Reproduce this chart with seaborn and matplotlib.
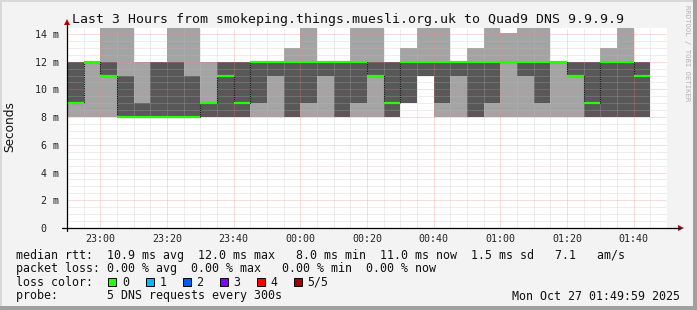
import numpy as np
import pandas as pd
import matplotlib
matplotlib.use("Agg")
import matplotlib.pyplot as plt
import seaborn as sns
from matplotlib.patches import Rectangle, Polygon
from matplotlib.lines import Line2D

# ---------------- data ----------------
step_start = ["22:50", "22:55", "23:00", "23:05", "23:10", "23:15", "23:20", "23:25",
              "23:30", "23:35", "23:40", "23:45", "23:50", "23:55", "00:00", "00:05",
              "00:10", "00:15", "00:20", "00:25", "00:30", "00:35", "00:40", "00:45",
              "00:50", "00:55", "01:00", "01:05", "01:10", "01:15", "01:20", "01:25",
              "01:30", "01:35", "01:40"]
# sorted pings per step (ms): p1 = lowest ... p5 = highest, p3 = median
ping1 = [8, 8, 8, 8, 8, 8, 8, 8, 8, 8, 8, 8, 8, 8, 8, 8, 8, 8, 8, 8,
         9, 11, 8, 8, 8, 8, 8, 8, 8, 8, 8, 8, 8, 8, 8]
ping2 = [9, 12, 11, 8, 8, 8, 8, 8, 8, 8, 8, 9, 11, 8, 9, 11, 8, 9, 11, 8,
         9, 11, 9, 11, 8, 9, 12, 11, 9, 12, 11, 8, 8, 8, 8]
median = [9, 12, 11, 8, 8, 8, 8, 8, 9, 11, 9, 12, 12, 12, 12, 12, 12, 12, 11, 9,
          12, 12, 12, 12, 12, 12, 12, 12, 12, 12, 11, 9, 12, 12, 11]
ping4 = [12, 12, 12, 11, 9, 12, 12, 11, 9, 12, 12, 12, 12, 12, 12, 12, 12, 12, 12, 12,
         12, 12, 12, 12, 12, 12, 12, 12, 12, 12, 12, 12, 12, 12, 12]
ping5 = [12, 12, 15, 15, 12, 12, 15, 15, 12, 12, 12, 12, 12, 13, 15, 12, 12, 15, 15, 12,
         13, 15, 15, 12, 13, 15, 14.1, 15, 15, 12, 12, 12, 13, 15, 12]

x_tick_labels = ["23:00", "23:20", "23:40", "00:00", "00:20", "00:40", "01:00", "01:20", "01:40"]
y_tick_values = [0, 2, 4, 6, 8, 10, 12, 14]
y_tick_labels = ["0  ", "2 m", "4 m", "6 m", "8 m", "10 m", "12 m", "14 m"]

loss_labels = ["0", "1", "2", "3", "4", "5/5"]
loss_colors = ["#26ff00", "#00b8ff", "#0059ff", "#7e00ff", "#ff0000", "#a10000"]

title = "Last 3 Hours from smokeping.things.muesli.org.uk to Quad9 DNS 9.9.9.9"
legend_lines = [
    "median rtt:  10.9 ms avg  12.0 ms max   8.0 ms min  11.0 ms now  1.5 ms sd   7.1   am/s",
    "packet loss: 0.00 % avg  0.00 % max   0.00 % min  0.00 % now",
    "loss color:",
    "probe:       5 DNS requests every 300s",
]
stamp = "Mon Oct 27 01:49:59 2025"


def to_min(s):
    h, m = map(int, s.split(":"))
    if h < 12:
        h += 24
    return (h - 22) * 60 + m


# ---------------- figure ----------------
sns.set_style("white")
plt.rcParams["font.family"] = ["DejaVu Sans Mono", "DejaVu Sans"]

W, H = 697, 310
fig = plt.figure(figsize=(W / 100, H / 100), dpi=100)
fig.patch.set_facecolor("#f3f3f3")


def fx(x):
    return x / W


def fy(y):
    return 1 - y / H


PL, PR, PT, PB = 67, 667, 28, 228
ax = fig.add_axes([fx(PL), fy(PB), (PR - PL) / W, (PB - PT) / H])
ax.set_facecolor("white")

df = pd.DataFrame({
    "t": [to_min(s) for s in step_start],
    "p1": ping1, "p2": ping2, "med": median, "p4": ping4, "p5": ping5,
})

# smoke
ax.bar(df["t"], df["p5"] - df["p1"], bottom=df["p1"], width=5, align="edge",
       color="#a4a4a4", linewidth=0, zorder=1)
ax.bar(df["t"], df["p4"] - df["p2"], bottom=df["p2"], width=5, align="edge",
       color="#585858", linewidth=0, zorder=2)

# median: dotted dark step connectors + green segments
step_df = pd.concat([df[["t", "med"]],
                     pd.DataFrame({"t": [df["t"].iloc[-1] + 5], "med": [df["med"].iloc[-1]]})],
                    ignore_index=True)
sns.lineplot(data=step_df, x="t", y="med", ax=ax, drawstyle="steps-post",
             color="#101010", linestyle=(0, (1, 1)), linewidth=0.8, zorder=3,
             estimator=None, sort=False)
ax.hlines(df["med"], df["t"], df["t"] + 5, color=loss_colors[0], linewidth=1.6, zorder=4)

# axes limits / ticks
x0 = to_min("22:50") - 1 / 60
ax.set_xlim(x0, x0 + 180)
ax.set_ylim(0, (PB - PT) / 13.86)
major_x = [to_min(s) for s in x_tick_labels]
ax.set_xticks(major_x)
ax.set_xticklabels(x_tick_labels)
ax.set_xticks(np.arange(to_min("22:50"), x0 + 180, 5), minor=True)
ax.set_yticks(y_tick_values)
ax.set_yticklabels(y_tick_labels)
ax.set_yticks(np.arange(0, 14.5, 0.5), minor=True)
ax.set_xlabel("")
ax.set_ylabel("")

ax.tick_params(axis="x", which="major", length=2, width=0.7, color="black",
               pad=2, labelsize=7.2, labelcolor="#222222", direction="out")
ax.tick_params(axis="y", which="major", length=2, width=0.7, color="black",
               pad=4, labelsize=7.2, labelcolor="#222222", direction="out")
ax.tick_params(which="minor", length=0)
for lab in ax.get_xticklabels() + ax.get_yticklabels():
    lab.set_family("DejaVu Sans Mono")

ax.set_axisbelow(False)
ax.grid(which="minor", color="#bababa", alpha=0.5, linestyle=(0, (1, 1)), linewidth=0.72)
ax.grid(which="major", color="#f08080", alpha=0.55, linestyle=(0, (1, 1)), linewidth=0.72)

for s in ax.spines.values():
    s.set_visible(False)

# axis lines with arrows
fig.add_artist(Line2D([fx(62), fx(680)], [fy(228), fy(228)], color="black", lw=0.9))
fig.add_artist(Line2D([fx(67), fx(67)], [fy(231), fy(23)], color="black", lw=0.9))
fig.add_artist(Polygon([[fx(64), fy(25)], [fx(70), fy(25)], [fx(67), fy(19)]],
                       closed=True, color="#c00000", lw=0))
fig.add_artist(Polygon([[fx(678), fy(225)], [fx(678), fy(231)], [fx(684), fy(228)]],
                       closed=True, color="#c00000", lw=0))

# title and side texts
fig.text(0.5, fy(19), title, ha="center", va="center", fontsize=9.5,
         family="DejaVu Sans Mono", color="#111111")
fig.text(fx(10), fy(127), "Seconds", rotation=90, ha="center", va="center",
         fontsize=8.7, family="DejaVu Sans", color="#111111")
fig.text(fx(687), fy(5), "RRDTOOL / TOBI OETIKER", rotation=270, ha="center", va="top",
         fontsize=5.2, family="DejaVu Sans Mono", color="#b4b4b4")

# legend block
line_y = [255, 268.5, 282, 296]
for txt, yy in zip(legend_lines, line_y):
    fig.text(fx(16), fy(yy), txt, ha="left", va="center", fontsize=8.4,
             family="DejaVu Sans Mono", color="#111111")
box_x = [108, 145.5, 182.5, 219.5, 256.5, 293.5]
for lab, col, bx in zip(loss_labels, loss_colors, box_x):
    fig.add_artist(Rectangle((fx(bx), fy(286)), 8 / W, 8 / H, facecolor=col,
                             edgecolor="black", lw=0.7))
    fig.text(fx(bx + 14), fy(282), lab, ha="left", va="center", fontsize=8.4,
             family="DejaVu Sans Mono", color="#111111")
fig.text(fx(680), fy(296), stamp, ha="right", va="center", fontsize=8.4,
         family="DejaVu Sans Mono", color="#111111")

# frame shading
fig.add_artist(Rectangle((0, 0), 1, 2 / H, facecolor="#c8c8c8", lw=0))
fig.add_artist(Rectangle((0, fy(0) - 2 / H), 1, 2 / H, facecolor="#d8d8d8", lw=0))
fig.add_artist(Rectangle((0, 0), 2 / W, 1, facecolor="#d8d8d8", lw=0))
fig.add_artist(Rectangle((1 - 4 / W, 0), 4 / W, 1, facecolor="#a0a0a0", lw=0))
fig.add_artist(Rectangle((0, 0), 1, 4 / H, facecolor="#a0a0a0", lw=0))

fig.savefig("out.png", dpi=100, facecolor=fig.get_facecolor())
